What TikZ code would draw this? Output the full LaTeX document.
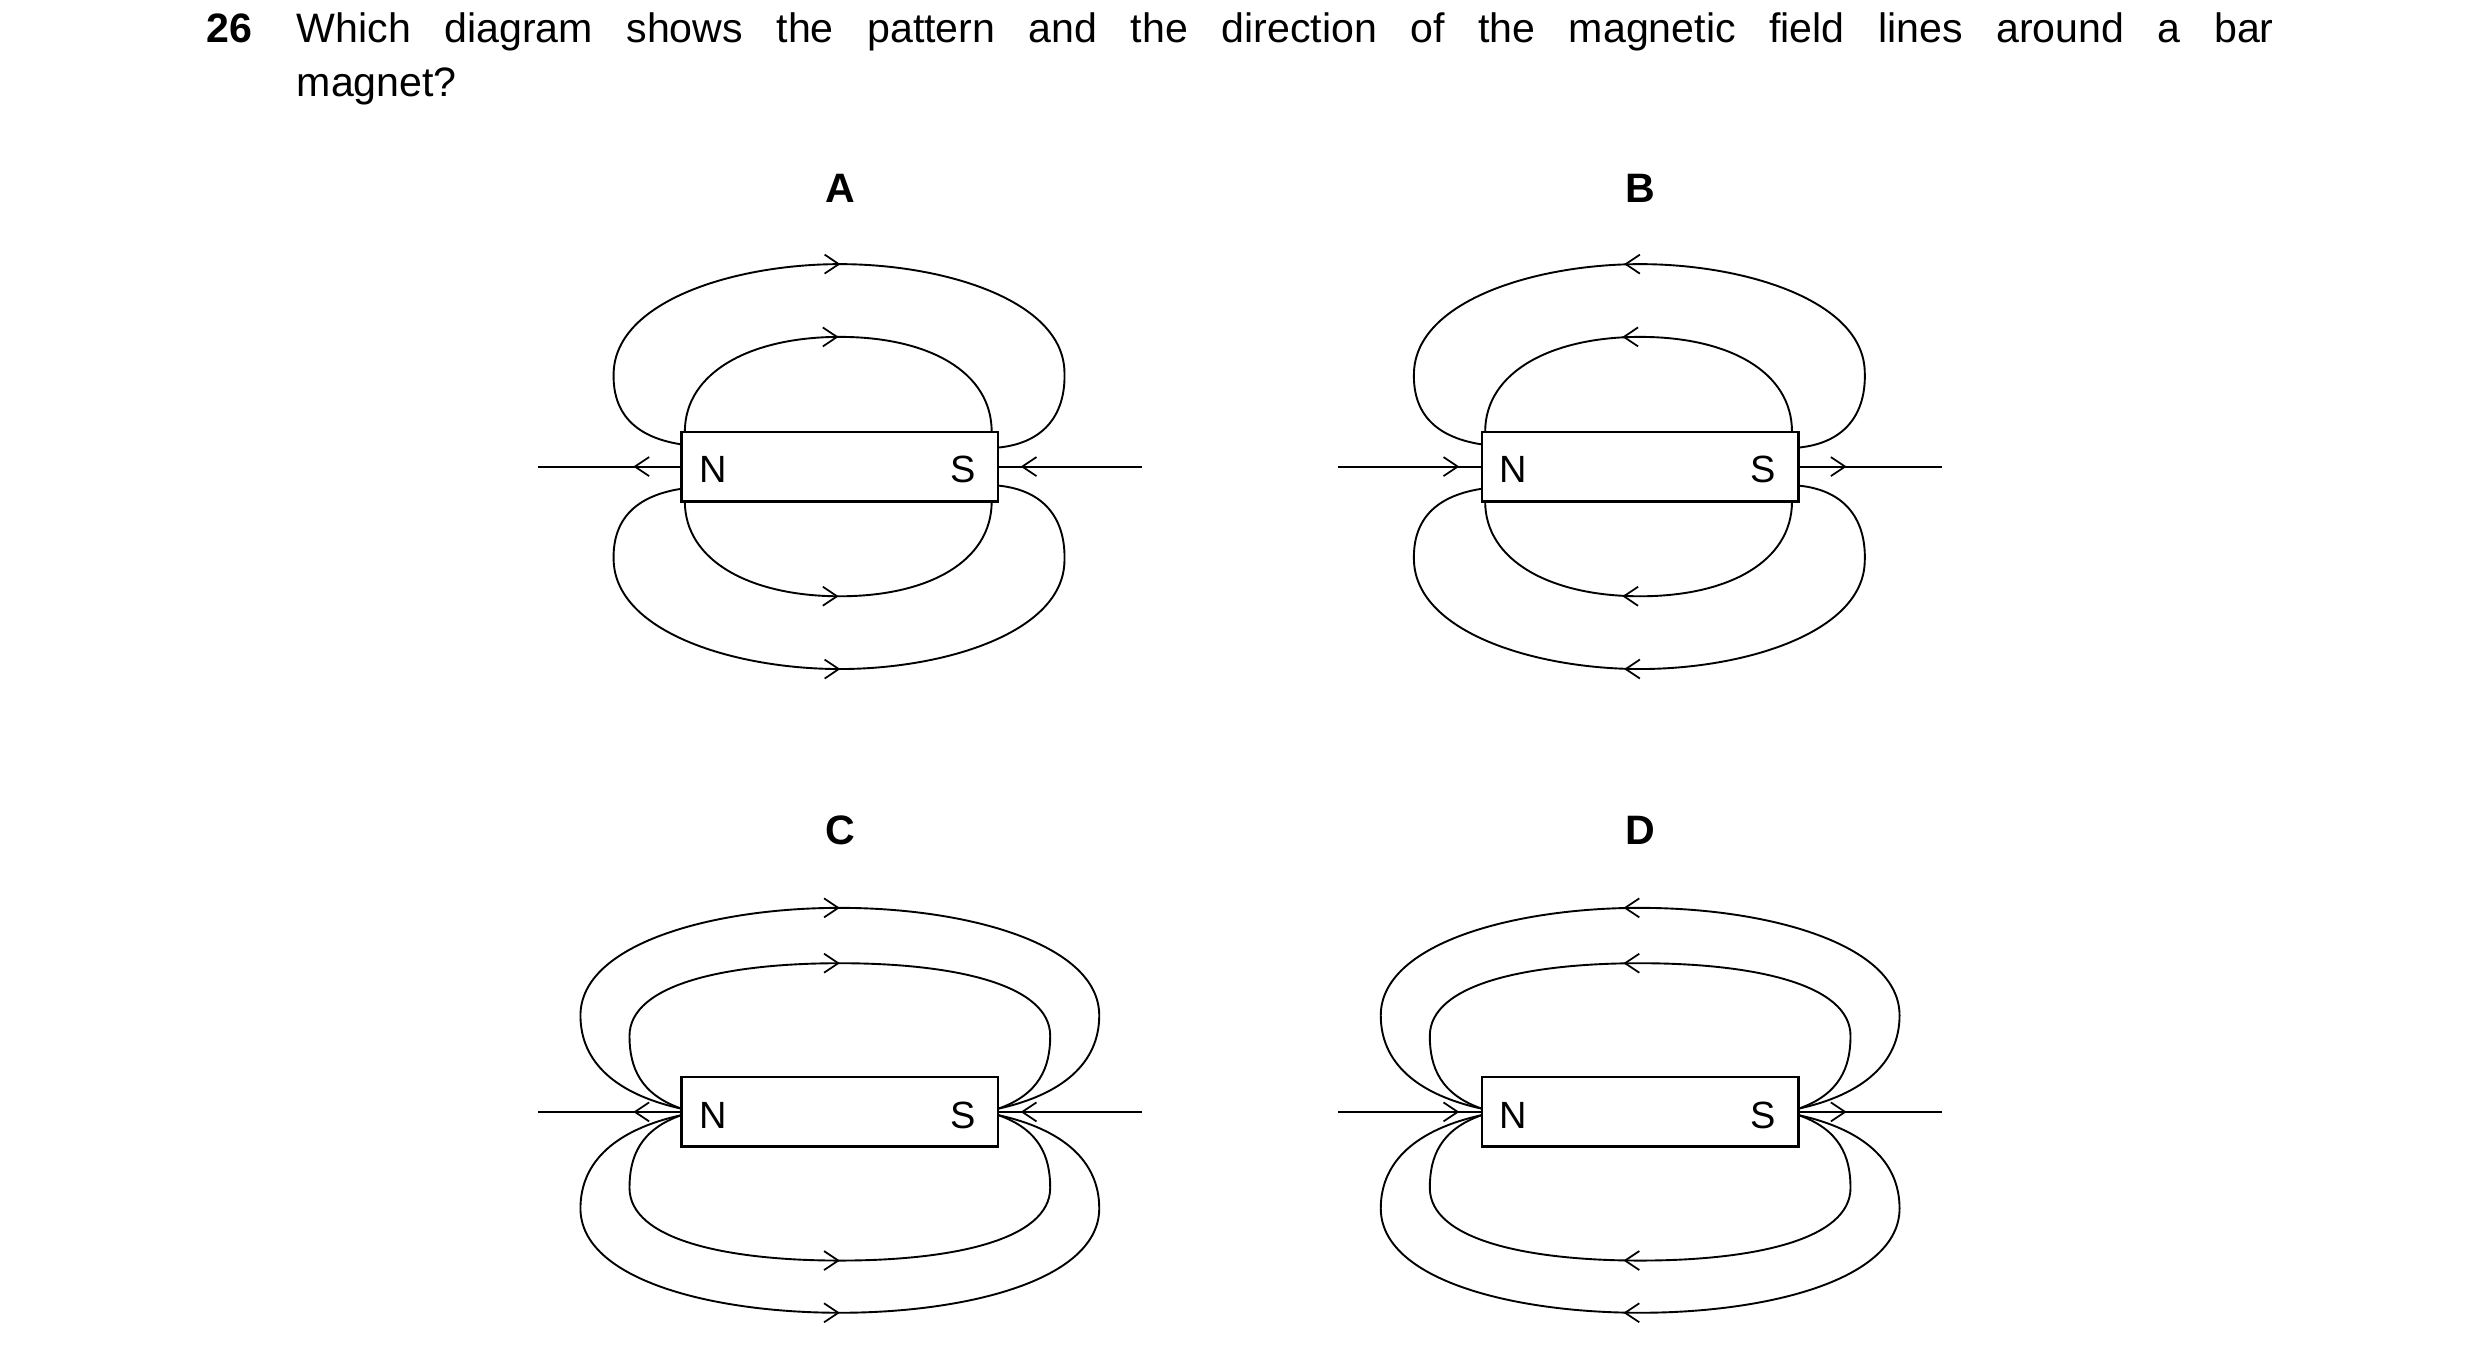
\documentclass[tikz,border=0pt]{standalone}
\usepackage{fontspec}
\setmainfont{Liberation Sans}
\usetikzlibrary{arrows.meta,decorations.markings}
\begin{document}
\begin{tikzpicture}[x=1pt,y=-1pt,line width=1.3pt,
  tip/.style={arrows={-Straight Barb[length=9pt,width=12pt,line width=1.1pt]}},
  fl/.style={line width=1.2pt,postaction={decorate},decoration={markings,mark=at position 0.5 with {\arrow[line width=1.1pt]{#1}}}},
  ax/.style={line width=1.2pt,postaction={decorate},decoration={markings,mark=at position #1 with {\arrow[line width=1.1pt]{Straight Barb[length=9pt,width=12pt]}}}},
  mag/.style={draw,fill=white,minimum width=200pt,minimum height=44pt,inner sep=0pt,line width=1.6pt},
  pole/.style={font=\fontsize{24}{24}\selectfont,inner sep=0pt},
  lab/.style={font=\bfseries\fontsize{26}{26}\selectfont,inner sep=0pt},
  txt/.style={font=\fontsize{26}{26}\selectfont,inner sep=0pt,anchor=base west}]
\useasboundingbox (0,0) rectangle (1568,864);
\node[txt,font=\bfseries\fontsize{26}{26}\selectfont] (num) at (130,27) {26};
\node[txt] (q1) at (187,27) {\makebox[1250pt][s]{Which diagram shows the pattern and the direction of the magnetic field lines around a bar}};
\node[txt] (q2) at (187,61) {magnet?};

% type 1 (A,B): dir = arrow for field lines (right-pointing when '>')
\newcommand\mfA[4]{% name, xoff, yoff, reverse(0/1)
 \begin{scope}[shift={(#2,#3)}]
  \ifnum#4=0 \def\fa{Straight Barb[length=9pt,width=12pt]}\else\def\fa{Straight Barb[length=9pt,width=12pt,reversed]}\fi
  \coordinate (#1l) at (340,295); \coordinate (#1r) at (722,295);
  \draw[fl=\fa] (433,273) .. controls (433,235) and (475,213) .. (531,213) .. controls (587,213) and (627,235) .. (627,273);
  \draw[fl=\fa] (431,281) .. controls (398,276) and (387,258) .. (388,235) .. controls (390,190) and (465,167) .. (531,167) .. controls (597,167) and (672,190) .. (673,235) .. controls (674,260) and (662,280) .. (631,283);
  \draw[fl=\fa] (433,317) .. controls (433,355) and (475,377) .. (531,377) .. controls (587,377) and (627,355) .. (627,317);
  \draw[fl=\fa] (431,309) .. controls (398,314) and (387,332) .. (388,355) .. controls (390,400) and (465,423) .. (531,423) .. controls (597,423) and (672,400) .. (673,355) .. controls (674,330) and (662,310) .. (631,307);
  \node[mag] (#1m) at (531,295) {};
  \node[pole] (#1n) at (451,297) {N};
  \node[pole] (#1s) at (609,297) {S};
  \ifnum#4=0
   \draw[ax=0.33] (#1m.west) -- (#1l);
   \draw[ax=0.85] (#1r) -- (#1m.east);
  \else
   \draw[ax=0.85] (#1l) -- (#1m.west);
   \draw[ax=0.33] (#1m.east) -- (#1r);
  \fi
 \end{scope}}
\newcommand\mfC[4]{%
 \begin{scope}[shift={(#2,#3)}]
  \ifnum#4=0 \def\fa{Straight Barb[length=9pt,width=12pt]}\else\def\fa{Straight Barb[length=9pt,width=12pt,reversed]}\fi
  \coordinate (#1l) at (340,703); \coordinate (#1r) at (722,703);
  \draw[fl=\fa] (431,701) .. controls (405,692) and (398,675) .. (398,655) .. controls (398,622) and (460,609) .. (531,609) .. controls (602,609) and (664,622) .. (664,655) .. controls (664,675) and (657,692) .. (631,701);
  \draw[fl=\fa] (431,701) .. controls (390,692) and (367,672) .. (367,642) .. controls (367,597) and (450,574) .. (531,574) .. controls (612,574) and (695,597) .. (695,642) .. controls (695,672) and (672,692) .. (631,701);
  \draw[fl=\fa] (431,705) .. controls (405,714) and (398,731) .. (398,751) .. controls (398,784) and (460,797) .. (531,797) .. controls (602,797) and (664,784) .. (664,751) .. controls (664,731) and (657,714) .. (631,705);
  \draw[fl=\fa] (431,705) .. controls (390,714) and (367,734) .. (367,764) .. controls (367,809) and (450,830) .. (531,830) .. controls (612,830) and (695,809) .. (695,764) .. controls (695,734) and (672,714) .. (631,705);
  \node[mag] (#1m) at (531,703) {};
  \node[pole] (#1n) at (451,705) {N};
  \node[pole] (#1s) at (609,705) {S};
  \ifnum#4=0
   \draw[ax=0.33] (#1m.west) -- (#1l);
   \draw[ax=0.85] (#1r) -- (#1m.east);
  \else
   \draw[ax=0.85] (#1l) -- (#1m.west);
   \draw[ax=0.33] (#1m.east) -- (#1r);
  \fi
 \end{scope}}
\mfA{a}{0}{0}{0}
\mfA{b}{506}{0}{1}
\mfC{c}{0}{0}{0}
\mfC{d}{506}{0}{1}
\node[lab] (la) at (531,119) {A};
\node[lab] (lb) at (1037,119) {B};
\node[lab] (lc) at (531,525) {C};
\node[lab] (ld) at (1037,525) {D};
\end{tikzpicture}
\end{document}
